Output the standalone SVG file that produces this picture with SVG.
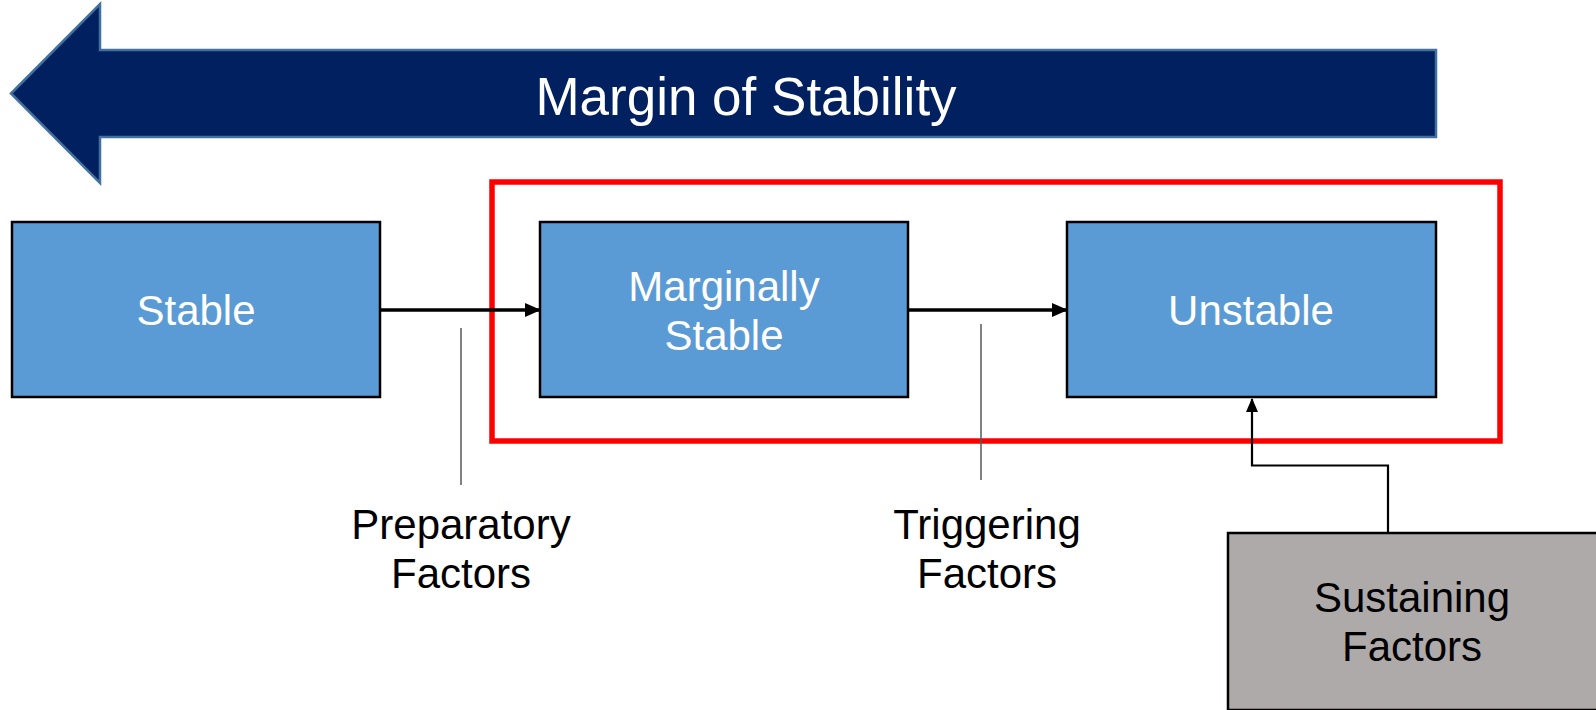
<svg xmlns="http://www.w3.org/2000/svg" width="1596" height="710" viewBox="0 0 1596 710">
<defs>
<marker id="ah" markerWidth="16" markerHeight="14" refX="15" refY="7" orient="auto" markerUnits="userSpaceOnUse">
<path d="M0,0 L16,7 L0,14 Z" fill="#000"/>
</marker>
<marker id="ah2" markerWidth="14" markerHeight="12" refX="13" refY="6" orient="auto" markerUnits="userSpaceOnUse">
<path d="M0,0 L14,6 L0,12 Z" fill="#000"/>
</marker>
<style>
.blue{fill:#5B9BD5;stroke:#000;stroke-width:2.5}
.gray{fill:#AEAAAA;stroke:#000;stroke-width:2.5}
.wt{font-family:"Liberation Sans",Arial,sans-serif;font-size:42px;fill:#fff;text-anchor:middle}
.bt{font-family:"Liberation Sans",Arial,sans-serif;font-size:42px;fill:#000;text-anchor:middle}
.conn{stroke:#000;fill:none}
.tick{stroke:#595959;stroke-width:1.5;fill:none}
</style>
</defs>
<g id="margin-arrow">
<polygon points="11,93.5 100,4 100,50 1436,50 1436,137 100,137 100,183" fill="#002060" stroke="#41719C" stroke-width="2.5"/>
<text x="746" y="115" font-family="Liberation Sans,Arial,sans-serif" font-size="53" fill="#fff" text-anchor="middle">Margin of Stability</text>
</g>
<g id="red-frame">
<rect x="492" y="182" width="1008" height="259" fill="none" stroke="#FF0000" stroke-width="5.5"/>
</g>
<g id="connectors">
<line class="conn" x1="380" y1="310" x2="540" y2="310" stroke-width="3.5" marker-end="url(#ah)"/>
<line class="conn" x1="908" y1="310" x2="1067" y2="310" stroke-width="3.5" marker-end="url(#ah)"/>
<polyline class="conn" points="1388,533 1388,465.5 1252,465.5 1252,399" stroke-width="2.2" marker-end="url(#ah2)"/>
<line class="tick" x1="461" y1="328" x2="461" y2="485"/>
<line class="tick" x1="981" y1="324" x2="981" y2="480"/>
</g>
<g id="stable">
<rect class="blue" x="12" y="222" width="368" height="175"/>
<text class="wt" x="196" y="325">Stable</text>
</g>
<g id="marginally-stable">
<rect class="blue" x="540" y="222" width="368" height="175"/>
<text class="wt" x="724" y="301">Marginally</text>
<text class="wt" x="724" y="350">Stable</text>
</g>
<g id="unstable">
<rect class="blue" x="1067" y="222" width="369" height="175"/>
<text class="wt" x="1251" y="325">Unstable</text>
</g>
<g id="preparatory-factors">
<text class="bt" x="461" y="539">Preparatory</text>
<text class="bt" x="461" y="588">Factors</text>
</g>
<g id="triggering-factors">
<text class="bt" x="987" y="539">Triggering</text>
<text class="bt" x="987" y="588">Factors</text>
</g>
<g id="sustaining-factors">
<rect class="gray" x="1228" y="533" width="370" height="177"/>
<text class="bt" x="1412" y="612">Sustaining</text>
<text class="bt" x="1412" y="661">Factors</text>
</g>
</svg>
